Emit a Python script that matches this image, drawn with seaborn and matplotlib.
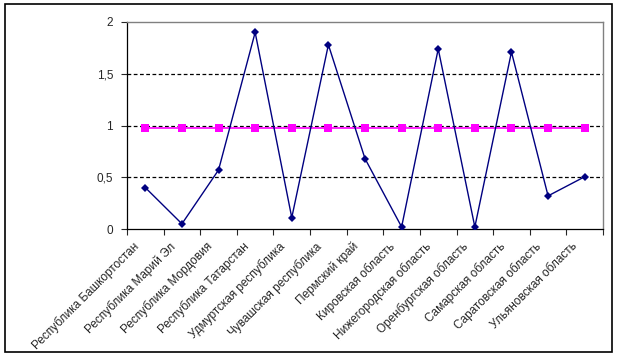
import numpy as np
import pandas as pd
import matplotlib
matplotlib.use("Agg")
import matplotlib.pyplot as plt
import matplotlib.transforms as mtransforms
import seaborn as sns
from matplotlib.patches import Rectangle
from matplotlib.ticker import FixedLocator, FuncFormatter

# данные
regions = ["Республика Башкортостан", "Республика Марий Эл", "Республика Мордовия",
           "Республика Татарстан", "Удмуртская республика", "Чувашская республика",
           "Пермский край", "Кировская область", "Нижегородская область",
           "Оренбургская область", "Самарская область", "Саратовская область",
           "Ульяновская область"]
values = [0.40, 0.05, 0.57, 1.90, 0.11, 1.78, 0.68, 0.02, 1.74, 0.02, 1.71, 0.32, 0.505]
level = [0.98] * len(regions)

sns.set_style("white")
plt.rcParams['font.family'] = ['Liberation Sans', 'DejaVu Sans']

df = pd.DataFrame({"region": regions, "value": values, "level": level})
df["pos"] = np.arange(len(regions))

fig = plt.figure(figsize=(6.19, 3.6), dpi=100)
ax = fig.add_axes([127 / 619, 1 - 229 / 360, (603 - 127) / 619, (229 - 22) / 360])

# рамка вокруг диаграммы
fig.patches.append(Rectangle((5 / 619, 1 - 352 / 360), 607 / 619, 348 / 360,
                             transform=fig.transFigure, fill=False,
                             edgecolor='black', linewidth=1.2))

for y in [0.5, 1.0, 1.5]:
    ax.axhline(y, color='black', linestyle=(0, (3, 2)), linewidth=0.9, zorder=1)

sns.lineplot(data=df, x="pos", y="level", ax=ax, color="#FF00FF", marker="s",
             markersize=5.5, markeredgewidth=0, linewidth=1.2, zorder=3)
sns.lineplot(data=df, x="pos", y="value", ax=ax, color="#000080", marker="D",
             markersize=4.5, markeredgewidth=0, linewidth=1.0, zorder=4)

ax.set_xlim(-0.5, len(regions) - 0.5)
ax.set_ylim(0, 2)
ax.set_xlabel("")
ax.set_ylabel("")

ax.set_yticks([0, 0.5, 1, 1.5, 2])
ax.yaxis.set_major_formatter(FuncFormatter(lambda v, p: f"{v:g}".replace(".", ",")))
ax.tick_params(axis='y', length=4, width=0.8, direction='out', labelsize=8.5, left=True, pad=6)

ax.set_xticks(df["pos"])
ax.set_xticklabels(regions, rotation=45, ha='right', va='top',
                   rotation_mode='anchor', fontsize=8.5)
ax.tick_params(axis='x', which='major', length=0, pad=8)
ax.xaxis.set_minor_locator(FixedLocator(np.arange(-0.5, len(regions), 1.0)))
ax.tick_params(axis='x', which='minor', length=4, width=0.8, direction='out', bottom=True)

# сдвиг подписей влево, как в Excel
shift = mtransforms.ScaledTranslation(-0.13, 0, fig.dpi_scale_trans)
for lbl in ax.get_xticklabels():
    lbl.set_transform(lbl.get_transform() + shift)

for side in ['left', 'bottom']:
    ax.spines[side].set_color('black')
    ax.spines[side].set_linewidth(0.9)
for side in ['top', 'right']:
    ax.spines[side].set_color('#808080')
    ax.spines[side].set_linewidth(1.0)

fig.savefig("out.png", dpi=100)
